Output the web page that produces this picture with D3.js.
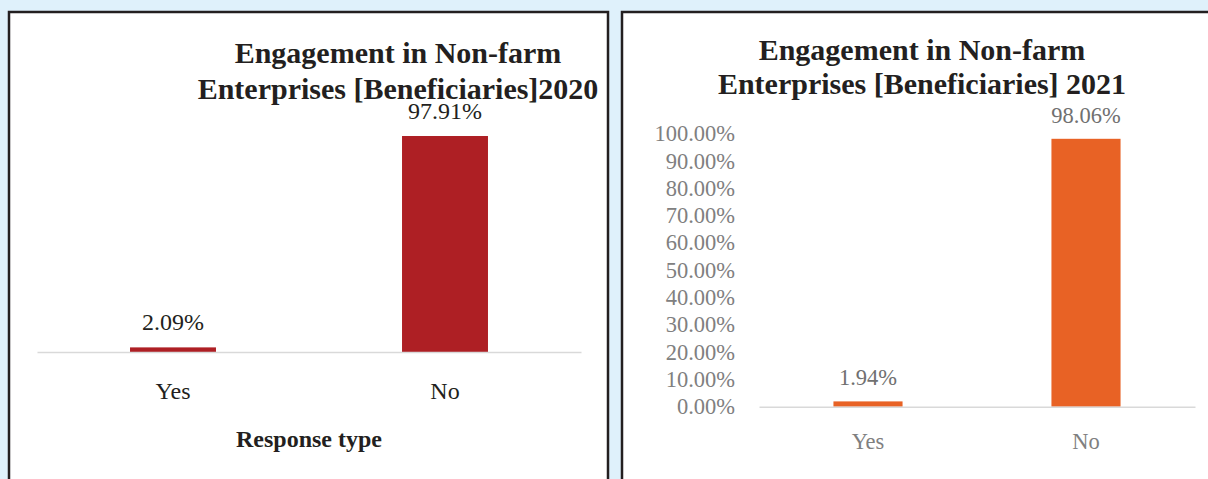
<!DOCTYPE html>
<html>
<head>
<meta charset="utf-8">
<script src="https://cdn.jsdelivr.net/npm/d3@7"></script>
<style>
  html, body { margin: 0; padding: 0; background: #dff1fb; }
  svg { display: block; }
  text { font-family: "Liberation Serif", "Times New Roman", serif; }
</style>
</head>
<body>
<svg id="chart" width="1208" height="479"></svg>
<script>
// Response categories shared by both years
const categories = ["Yes", "No"];

// Share of beneficiaries engaged in non-farm enterprises
const values2020 = [0.0209, 0.9791];
const values2021 = [0.0194, 0.9806];

// Y-axis ticks for the 2021 panel
const yTicks2021 = [0, 0.1, 0.2, 0.3, 0.4, 0.5, 0.6, 0.7, 0.8, 0.9, 1.0];

// Titles (two lines each) and axis title
const title2020 = ["Engagement in Non-farm", "Enterprises [Beneficiaries]2020"];
const title2021 = ["Engagement in Non-farm", "Enterprises [Beneficiaries] 2021"];
const xAxisTitle2020 = "Response type";

const svg = d3.select("#chart");
const pct = d3.format(".2%");

// Panel frames
svg.append("rect")
  .attr("x", 9).attr("y", 12).attr("width", 599).attr("height", 500)
  .attr("fill", "#ffffff").attr("stroke", "#231f20").attr("stroke-width", 2.5);
svg.append("rect")
  .attr("x", 622).attr("y", 12).attr("width", 700).attr("height", 500)
  .attr("fill", "#ffffff").attr("stroke", "#231f20").attr("stroke-width", 2.5);

// ---------- 2020 panel ----------
{
  const g = svg.append("g");
  const x = d3.scaleBand().domain(categories).range([37, 581])
    .paddingInner(0.684).paddingOuter(0.342);
  const y = d3.scaleLinear().domain([0, 1]).range([352, 352 - 220.6]);

  g.selectAll("text.title").data(title2020).join("text")
    .attr("class", "title")
    .attr("x", 398).attr("y", (d, i) => 63 + i * 36)
    .attr("text-anchor", "middle")
    .attr("font-size", 30).attr("font-weight", "bold").attr("fill", "#231f20")
    .text(d => d);

  g.selectAll("rect.bar").data(values2020).join("rect")
    .attr("class", "bar")
    .attr("x", (d, i) => x(categories[i]))
    .attr("width", x.bandwidth())
    .attr("y", d => y(d))
    .attr("height", d => y(0) - y(d))
    .attr("fill", "#ae1f24");

  const xAxis = g.append("g").attr("transform", `translate(0,${y(0)})`)
    .call(d3.axisBottom(x).tickSize(0).tickPadding(30));
  xAxis.select(".domain").attr("stroke", "#d9d9d9").attr("stroke-width", 1.5);
  xAxis.selectAll("text")
    .attr("font-family", "Liberation Serif, serif")
    .attr("font-size", 24).attr("fill", "#231f20");

  g.selectAll("text.val").data(values2020).join("text")
    .attr("class", "val")
    .attr("x", (d, i) => x(categories[i]) + x.bandwidth() / 2)
    .attr("y", d => y(d) - 17)
    .attr("text-anchor", "middle")
    .attr("font-size", 24).attr("fill", "#231f20")
    .text(d => pct(d));

  g.append("text")
    .attr("x", 309).attr("y", 447)
    .attr("text-anchor", "middle")
    .attr("font-size", 24).attr("font-weight", "bold").attr("fill", "#231f20")
    .text(xAxisTitle2020);
}

// ---------- 2021 panel ----------
{
  const g = svg.append("g");
  const x = d3.scaleBand().domain(categories).range([759, 1195])
    .paddingInner(0.683).paddingOuter(0.3415);
  const y = d3.scaleLinear().domain([0, 1]).range([406.7, 133.5]);

  g.selectAll("text.title").data(title2021).join("text")
    .attr("class", "title")
    .attr("x", 922).attr("y", (d, i) => 60 + i * 34)
    .attr("text-anchor", "middle")
    .attr("font-size", 30).attr("font-weight", "bold").attr("fill", "#231f20")
    .text(d => d);

  const yAxis = g.append("g").attr("transform", "translate(735,0)")
    .call(d3.axisLeft(y).tickValues(yTicks2021).tickFormat(pct).tickSize(0).tickPadding(0));
  yAxis.select(".domain").remove();
  yAxis.selectAll("text")
    .attr("font-family", "Liberation Serif, serif")
    .attr("font-size", 22.5).attr("fill", "#808080");

  g.selectAll("rect.bar").data(values2021).join("rect")
    .attr("class", "bar")
    .attr("x", (d, i) => x(categories[i]))
    .attr("width", x.bandwidth())
    .attr("y", d => y(d))
    .attr("height", d => y(0) - y(d))
    .attr("fill", "#e86225");

  const xAxis = g.append("g").attr("transform", `translate(0,${y(0)})`)
    .call(d3.axisBottom(x).tickSize(0).tickPadding(26));
  xAxis.select(".domain").attr("stroke", "#d9d9d9").attr("stroke-width", 1.5);
  xAxis.selectAll("text")
    .attr("font-family", "Liberation Serif, serif")
    .attr("font-size", 22.5).attr("fill", "#808080");

  g.selectAll("text.val").data(values2021).join("text")
    .attr("class", "val")
    .attr("x", (d, i) => x(categories[i]) + x.bandwidth() / 2)
    .attr("y", d => y(d) - 16)
    .attr("text-anchor", "middle")
    .attr("font-size", 22.5).attr("fill", "#707070")
    .text(d => pct(d));
}
</script>
</body>
</html>
